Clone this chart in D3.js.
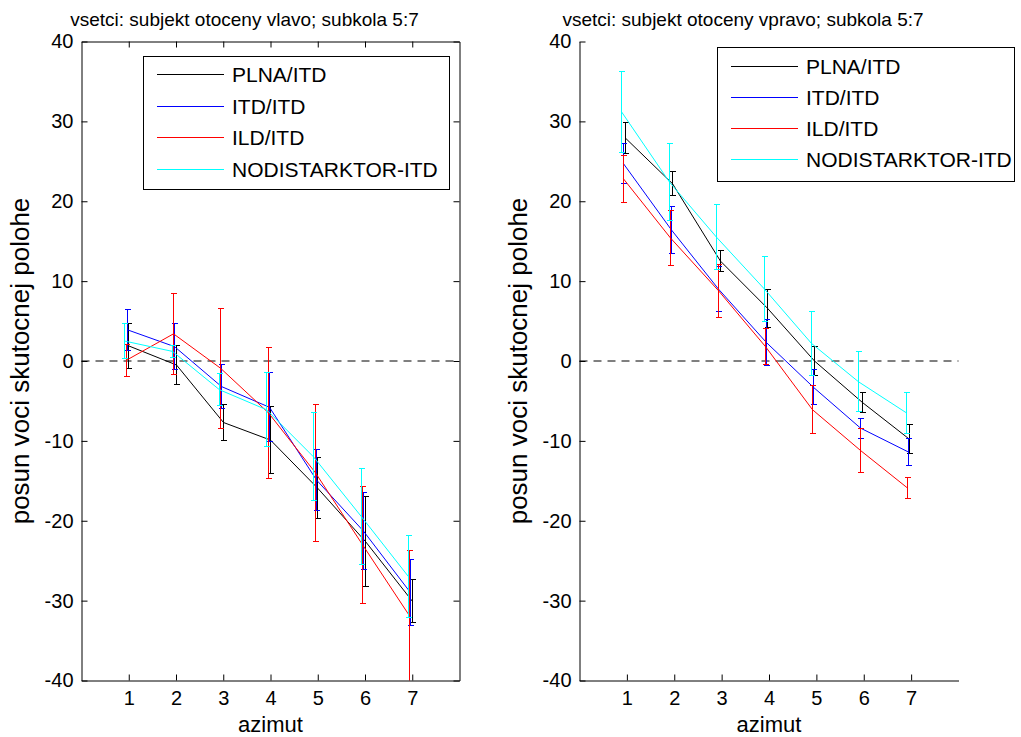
<!DOCTYPE html>
<html>
<head>
<meta charset="utf-8">
<script src="https://cdn.jsdelivr.net/npm/d3@7.9.0/dist/d3.min.js"></script>
<style>
  body { margin: 0; background: #fff; }
  svg { display: block; font-family: "Liberation Sans", Arial, sans-serif; }
</style>
</head>
<body>
<svg id="chart" width="1021" height="737"></svg>
<script>
const azimut = [1, 2, 3, 4, 5, 6, 7];
const seriesNames = ["PLNA/ITD", "ITD/ITD", "ILD/ITD", "NODISTARKTOR-ITD"];
const seriesColors = ["#000000", "#0000ff", "#ff0000", "#00ffff"];
const yTicks = [-40, -30, -20, -10, 0, 10, 20, 30, 40];

// left panel: subjekt otoceny vlavo
const plnaLeft = [1.9, -0.5, -7.7, -9.9, -15.9, -22.6, -30.1];
const plnaLeftErr = [2.8, 2.4, 2.2, 4.2, 3.8, 5.6, 2.7];
const itdLeft = [3.9, 1.8, -3.2, -5.8, -14.9, -21.3, -29.0];
const itdLeftErr = [2.6, 2.9, 2.7, 4.3, 3.8, 4.8, 4.1];
const ildLeft = [0.1, 3.4, -0.9, -6.5, -14.0, -23.0, -31.9];
const ildLeftErr = [2.0, 5.1, 7.5, 8.2, 8.6, 7.3, 8.2];
const nodisLeft = [2.5, 1.2, -3.6, -6.1, -12.0, -19.5, -27.0];
const nodisLeftErr = [2.2, 0.75, 2.0, 4.6, 5.5, 6.0, 5.1];

// right panel: subjekt otoceny vpravo
const plnaRight = [27.9, 22.2, 12.5, 6.6, 0.0, -5.2, -9.8];
const plnaRightErr = [1.9, 1.5, 1.3, 2.35, 1.8, 1.2, 1.8];
const itdRight = [24.7, 16.4, 9.0, 2.3, -3.3, -8.4, -11.4];
const itdRightErr = [2.5, 2.9, 2.8, 2.85, 2.2, 1.25, 1.7];
const ildRight = [22.8, 15.4, 8.8, 1.8, -6.1, -11.2, -15.9];
const ildRightErr = [2.9, 3.5, 3.3, 2.25, 3.0, 2.75, 1.35];
const nodisRight = [31.2, 22.4, 15.5, 9.0, 2.2, -2.6, -6.5];
const nodisRightErr = [5.1, 4.8, 4.1, 4.05, 4.0, 3.75, 2.55];

const svg = d3.select("#chart");
const y = d3.scaleLinear().domain([-40, 40]).range([680.5, 41.5]);
const plainNum = (d) => String(d);

function drawPanel(opts) {
  const x = d3.scaleLinear().domain([0, 8]).range(opts.xRange);
  const g = svg.append("g");
  const [x0, x1] = opts.xRange;

  const clipId = "clip-" + opts.id;
  svg.append("clipPath").attr("id", clipId)
    .append("rect")
    .attr("x", x0).attr("y", y(40))
    .attr("width", x1 - x0).attr("height", y(-40) - y(40));

  // zero reference
  g.append("line")
    .attr("x1", x(0)).attr("x2", x(8))
    .attr("y1", y(0)).attr("y2", y(0))
    .attr("stroke", "#000").attr("stroke-dasharray", "8,6");

  const plot = g.append("g").attr("clip-path", `url(#${clipId})`);
  opts.series.forEach((s, i) => {
    const pts = azimut.map((a, k) => ({ a, v: s.values[k], e: s.err[k] }));
    const px = (d) => Math.round(x(d.a) + opts.shift[i]) + 0.5;
    plot.append("path")
      .datum(pts)
      .attr("fill", "none")
      .attr("stroke", seriesColors[i])
      .attr("stroke-width", 1)
      .attr("d", d3.line().x(px).y((d) => y(d.v)));
    const bars = plot.append("g")
      .attr("stroke", seriesColors[i]).attr("stroke-width", 1)
      .attr("shape-rendering", "crispEdges");
    pts.forEach((d) => {
      const cx = px(d);
      bars.append("line").attr("x1", cx).attr("x2", cx)
        .attr("y1", y(d.v + d.e)).attr("y2", y(d.v - d.e));
      [d.v + d.e, d.v - d.e].forEach((v) => {
        bars.append("line").attr("x1", cx - 3).attr("x2", cx + 3)
          .attr("y1", y(v)).attr("y2", y(v));
      });
    });
  });

  // axes (MATLAB style, ticks inward)
  g.append("g").attr("transform", `translate(0,${y(-40)})`)
    .call(d3.axisBottom(x).tickValues(azimut).tickFormat(plainNum)
      .tickSizeInner(-6).tickSizeOuter(0).tickPadding(10));
  g.append("g").attr("transform", `translate(${x0},0)`)
    .call(d3.axisLeft(y).tickValues(yTicks).tickFormat(plainNum)
      .tickSizeInner(-6).tickSizeOuter(0).tickPadding(8));
  if (opts.box) {
    g.append("g").attr("transform", `translate(0,${y(40)})`)
      .call(d3.axisTop(x).tickValues(azimut).tickSizeInner(-6).tickSizeOuter(0).tickFormat(""));
    g.append("g").attr("transform", `translate(${x1},0)`)
      .call(d3.axisRight(y).tickValues(yTicks).tickSizeInner(-6).tickSizeOuter(0).tickFormat(""));
  }
  g.selectAll(".domain, .tick line").attr("stroke", "#000");
  g.selectAll(".tick text")
    .attr("font-size", 20).attr("fill", "#000")
    .attr("font-family", "'Liberation Sans', Arial, sans-serif");

  // labels
  g.append("text")
    .attr("x", (x0 + x1) / 2 - 26).attr("y", 26)
    .attr("text-anchor", "middle").attr("font-size", 19)
    .text(opts.title);
  g.append("text")
    .attr("x", (x0 + x1) / 2).attr("y", 732)
    .attr("text-anchor", "middle").attr("font-size", 22)
    .text("azimut");
  g.append("text")
    .attr("transform", `translate(${x0 - 53},${y(0)}) rotate(-90)`)
    .attr("text-anchor", "middle").attr("font-size", 26)
    .text("posun voci skutocnej polohe");

  // legend
  const L = opts.legend;
  const leg = g.append("g").attr("shape-rendering", "crispEdges");
  leg.append("rect")
    .attr("x", L.x + 0.5).attr("y", L.y + 0.5).attr("width", L.w).attr("height", L.h)
    .attr("fill", "#fff").attr("stroke", "#000");
  seriesNames.forEach((name, i) => {
    const cy = Math.round(L.y + L.first + i * L.step) + 0.5;
    leg.append("line")
      .attr("x1", L.x + 14).attr("x2", L.x + 81)
      .attr("y1", cy).attr("y2", cy)
      .attr("stroke", seriesColors[i]);
    leg.append("text")
      .attr("x", L.x + 89).attr("y", cy + 7.5)
      .attr("font-size", 21)
      .text(name);
  });
}

drawPanel({
  id: "left",
  xRange: [81.5, 459.5],
  box: true,
  title: "vsetci: subjekt otoceny vlavo; subkola 5:7",
  shift: [-0.5, -2, -3, -4.5],
  series: [
    { values: plnaLeft, err: plnaLeftErr },
    { values: itdLeft, err: itdLeftErr },
    { values: ildLeft, err: ildLeftErr },
    { values: nodisLeft, err: nodisLeftErr },
  ],
  legend: { x: 143, y: 56, w: 306, h: 133, first: 18, step: 31.5 },
});

drawPanel({
  id: "right",
  xRange: [579.5, 958.5],
  box: false,
  title: "vsetci: subjekt otoceny vpravo; subkola 5:7",
  shift: [-2, -3.5, -4, -5.5],
  series: [
    { values: plnaRight, err: plnaRightErr },
    { values: itdRight, err: itdRightErr },
    { values: ildRight, err: ildRightErr },
    { values: nodisRight, err: nodisRightErr },
  ],
  legend: { x: 717, y: 47, w: 297, h: 134, first: 19, step: 31 },
});
</script>
</body>
</html>
